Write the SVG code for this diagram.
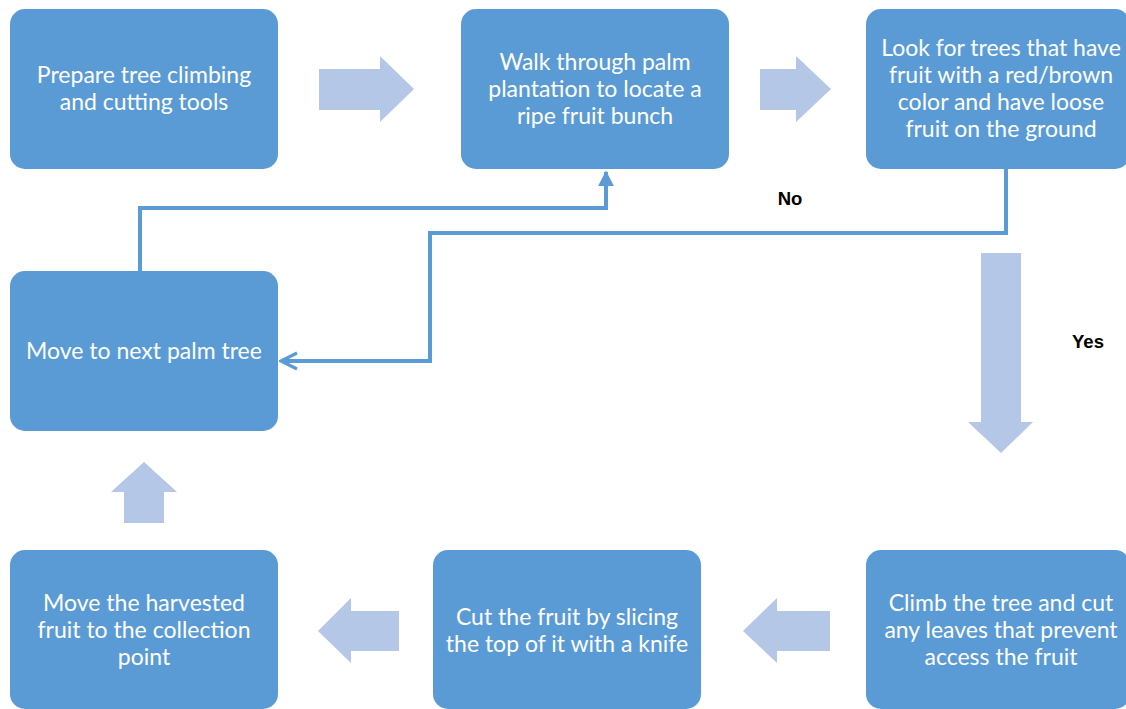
<svg xmlns="http://www.w3.org/2000/svg" width="1126" height="709" viewBox="0 0 1126 709">
<defs>
<style>
.node{fill:#5B9BD5;}
.nt{fill:#FFFFFF;font-family:Lato,"Liberation Sans",sans-serif;font-size:23px;text-anchor:middle;}
.blk{fill:#B4C7E7;}
.con{fill:none;stroke:#5B9BD5;stroke-width:4;}
.lbl{fill:#000000;font-family:"Liberation Sans",Arial,sans-serif;font-size:18.5px;font-weight:bold;text-anchor:middle;}
</style>
<marker id="tri" viewBox="0 0 10 10" refX="9" refY="5" markerWidth="4" markerHeight="4" orient="auto" markerUnits="strokeWidth">
<path d="M0,0 L10,5 L0,10 z" fill="#5B9BD5"/>
</marker>
<marker id="open" viewBox="0 0 10 10" refX="9" refY="5" markerWidth="5" markerHeight="5" orient="auto" markerUnits="strokeWidth">
<path d="M1,1 L9,5 L1,9" fill="none" stroke="#5B9BD5" stroke-width="1.6"/>
</marker>
</defs>
<rect width="1126" height="709" fill="#FFFFFF"/>
<g id="connectors">
<polyline class="con" points="140,271 140,208 606,208 606,172" marker-end="url(#tri)"/>
<polyline class="con" points="1006,169 1006,233 430,233 430,361 281,361" marker-end="url(#open)"/>
<polygon class="blk" points="319,69 380,69 380,56 414,89 380,122 380,110 319,110"/>
<polygon class="blk" points="760,69 796,69 796,56 831,89 796,122 796,110 760,110"/>
<polygon class="blk" points="981,253 1021,253 1021,422 1033,422 1001,453 968,422 981,422"/>
<polygon class="blk" points="124,523 164,523 164,492 177,492 144,462 111,492 124,492"/>
<polygon class="blk" points="399,611 399,651 351,651 351,663 318,631 351,598 351,611"/>
<polygon class="blk" points="830,611 830,651 777,651 777,663 743,631 777,598 777,611"/>
<text class="lbl" x="790" y="205">No</text>
<text class="lbl" x="1088" y="348">Yes</text>
</g>
<g id="n1">
<rect class="node" x="10" y="9" width="268" height="160" rx="15"/>
<text class="nt" x="144" y="83">Prepare tree climbing</text>
<text class="nt" x="144" y="110">and cutting tools</text>
</g>
<g id="n2">
<rect class="node" x="461" y="9" width="268" height="160" rx="15"/>
<text class="nt" x="595" y="70">Walk through palm</text>
<text class="nt" x="595" y="97">plantation to locate a</text>
<text class="nt" x="595" y="124">ripe fruit bunch</text>
</g>
<g id="n3">
<rect class="node" x="866" y="9" width="264" height="160" rx="15"/>
<text class="nt" x="1001" y="56">Look for trees that have</text>
<text class="nt" x="1001" y="83">fruit with a red/brown</text>
<text class="nt" x="1001" y="110">color and have loose</text>
<text class="nt" x="1001" y="137">fruit on the ground</text>
</g>
<g id="n4">
<rect class="node" x="10" y="271" width="268" height="160" rx="15"/>
<text class="nt" x="144" y="359">Move to next palm tree</text>
</g>
<g id="n5">
<rect class="node" x="10" y="550" width="268" height="159" rx="15"/>
<text class="nt" x="144" y="611">Move the harvested</text>
<text class="nt" x="144" y="638">fruit to the collection</text>
<text class="nt" x="144" y="665">point</text>
</g>
<g id="n6">
<rect class="node" x="433" y="550" width="268" height="159" rx="15"/>
<text class="nt" x="567" y="625">Cut the fruit by slicing</text>
<text class="nt" x="567" y="652">the top of it with a knife</text>
</g>
<g id="n7">
<rect class="node" x="866" y="550" width="264" height="159" rx="15"/>
<text class="nt" x="1001" y="611">Climb the tree and cut</text>
<text class="nt" x="1001" y="638">any leaves that prevent</text>
<text class="nt" x="1001" y="665">access the fruit</text>
</g>
</svg>
